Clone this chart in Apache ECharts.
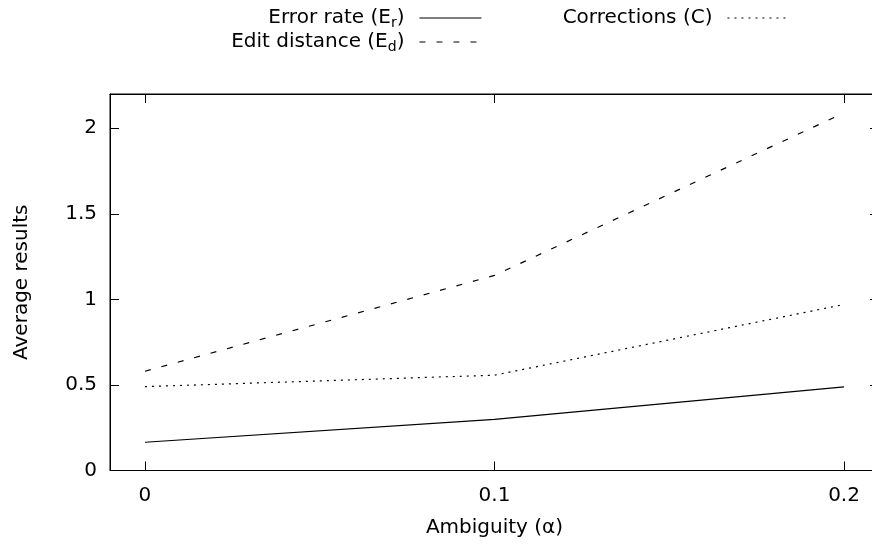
<!DOCTYPE html>
<html>
<head>
<meta charset="utf-8">
<script src="https://cdn.jsdelivr.net/npm/echarts@6/dist/echarts.min.js"></script>
<style>
  html, body { margin: 0; padding: 0; background: #fff; }
  #chart { width: 872px; height: 544px; }
</style>
</head>
<body>
<div id="chart"></div>
<script>
// data
const alphas = [0, 0.1, 0.2];
const errorRate = [0.165, 0.299, 0.489];
const editDistance = [0.58, 1.14, 2.09];
const corrections = [0.49, 0.557, 0.97];
const xTicks = [0, 0.1, 0.2];
const yTicks = [0, 0.5, 1, 1.5, 2];

const font = "DejaVu Sans";
const pairs = (ys) => alphas.map((a, i) => [a, ys[i]]);

const legendText = {
  color: "#000",
  fontFamily: font,
  fontSize: 20,
  lineHeight: 24,
  padding: [0, 10, 0, 0],
  rich: {
    sub: { fontSize: 14, lineHeight: 10, verticalAlign: "bottom", fontFamily: font, color: "#000" },
  },
};

const legendBase = {
  orient: "horizontal",
  align: "right",
  padding: 0,
  itemWidth: 62,
  itemHeight: 14,
  selectedMode: false,
  itemStyle: { opacity: 0 }, // hide the symbol, keep the line sample
  lineStyle: { width: 1.1 },
  textStyle: legendText,
};

const subNames = {
  "Error rate": "Error rate (E{sub|r})",
  "Edit distance": "Edit distance (E{sub|d})",
  "Corrections": "Corrections (C)",
};

const axisLineStyle = { onZero: false, lineStyle: { color: "#000", width: 1 } };
const tickStyle = { inside: true, length: 9, lineStyle: { color: "#000", width: 1 } };

const option = {
  animation: false,
  backgroundColor: "#fff",
  textStyle: { fontFamily: font },
  grid: {
    left: 110,
    top: 94,
    right: -7,
    bottom: 73.5,
    show: true,
    borderColor: "#000",
    borderWidth: 1,
    outerBoundsMode: "none",
  },
  legend: [
    Object.assign({}, legendBase, { data: ["Error rate"], right: 390, top: 6, formatter: (n) => subNames[n] }),
    Object.assign({}, legendBase, { data: ["Edit distance"], right: 390, top: 30, formatter: (n) => subNames[n] }),
    Object.assign({}, legendBase, { data: ["Corrections"], right: 82, top: 6, formatter: (n) => subNames[n] }),
  ],
  xAxis: [
    {
      type: "value",
      min: -0.01,
      max: 0.21,
      name: "Ambiguity (α)",
      nameLocation: "middle",
      nameGap: 47,
      nameTextStyle: { color: "#000", fontSize: 20, fontFamily: font },
      axisLine: axisLineStyle,
      axisTick: Object.assign({ customValues: xTicks }, tickStyle),
      axisLabel: { customValues: xTicks, color: "#000", fontSize: 20, fontFamily: font, margin: 15 },
      splitLine: { show: false },
    },
    {
      type: "value",
      position: "top",
      min: -0.01,
      max: 0.21,
      axisLine: axisLineStyle,
      axisTick: Object.assign({ customValues: xTicks }, tickStyle),
      axisLabel: { show: false },
      splitLine: { show: false },
    },
  ],
  yAxis: [
    {
      type: "value",
      min: 0,
      max: 2.2,
      name: "Average results",
      nameLocation: "middle",
      nameGap: 78,
      nameTextStyle: { color: "#000", fontSize: 20, fontFamily: font },
      axisLine: axisLineStyle,
      axisTick: Object.assign({ customValues: yTicks }, tickStyle),
      axisLabel: { customValues: yTicks, color: "#000", fontSize: 20, fontFamily: font, margin: 13 },
      splitLine: { show: false },
    },
    {
      type: "value",
      position: "right",
      min: 0,
      max: 2.2,
      axisLine: axisLineStyle,
      axisTick: Object.assign({ customValues: yTicks }, tickStyle),
      axisLabel: { show: false },
      splitLine: { show: false },
    },
  ],
  series: [
    {
      name: "Error rate",
      type: "line",
      data: pairs(errorRate),
      symbol: "none",
      lineStyle: { color: "#000", width: 1.2, type: "solid" },
      itemStyle: { color: "#000" },
    },
    {
      name: "Edit distance",
      type: "line",
      data: pairs(editDistance),
      symbol: "none",
      lineStyle: { color: "#000", width: 1.2, type: [6, 11] },
      itemStyle: { color: "#000" },
    },
    {
      name: "Corrections",
      type: "line",
      data: pairs(corrections),
      symbol: "none",
      lineStyle: { color: "#000", width: 1.2, type: [2, 5] },
      itemStyle: { color: "#000" },
    },
  ],
};

const chart = echarts.init(document.getElementById("chart"));
chart.setOption(option);
</script>
</body>
</html>
